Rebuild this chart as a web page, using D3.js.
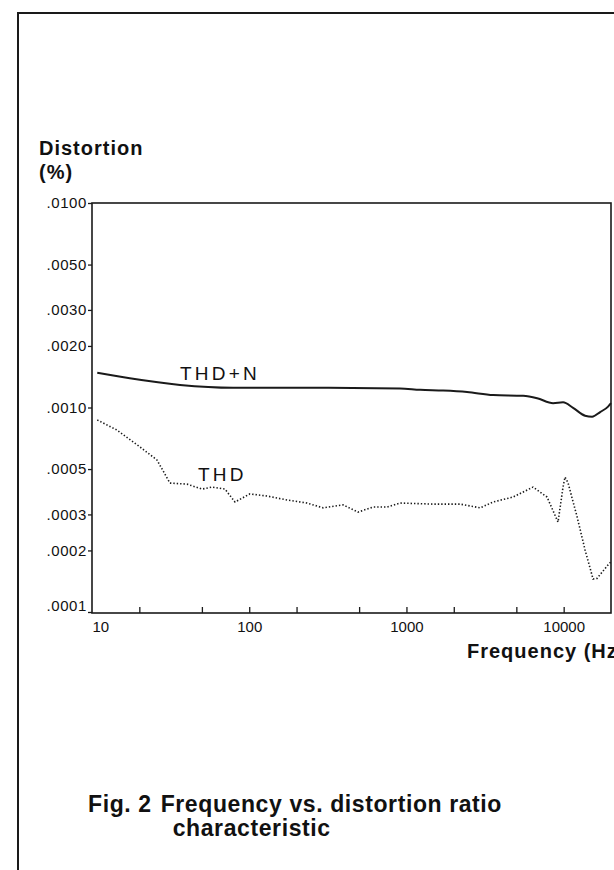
<!DOCTYPE html>
<html>
<head>
<meta charset="utf-8">
<script src="https://cdn.jsdelivr.net/npm/d3@7/dist/d3.min.js"></script>
<style>
  html, body { margin: 0; padding: 0; background: #fff; }
  svg { display: block; }
  text { font-family: "Liberation Sans", Arial, Helvetica, sans-serif; fill: #111; }
</style>
</head>
<body>
<svg id="chart" width="614" height="870"></svg>
<script>
// ---- Data ----
const thdnFreq = [10.8, 17.4, 36.3, 78.9, 244, 910, 1222, 1710, 2430, 3560, 5520, 6780, 8570, 9910, 11480, 13680, 15170, 17060, 19160, 20000];
const thdnValue = [0.00148, 0.00139, 0.00129, 0.00125, 0.00125, 0.00124, 0.00122, 0.00121, 0.00119, 0.00115, 0.00114, 0.00111, 0.00105, 0.00106, 0.000996, 0.000912, 0.000901, 0.00095, 0.00101, 0.00105];

const thdFreq = [10.8, 14.4, 20.2, 25.9, 31.3, 40.2, 50.1, 58.0, 70.1, 81.2, 101, 130, 174, 233, 295, 395, 492, 613, 753, 910, 1476, 2193, 2940, 3556, 4767, 6385, 7838, 9207, 9905, 10200, 10660, 12170, 13680, 15380, 16300, 19160, 20000];
const thdValue = [0.000869, 0.000776, 0.000641, 0.000554, 0.000427, 0.000422, 0.000399, 0.000408, 0.000399, 0.000345, 0.000378, 0.000369, 0.000353, 0.000341, 0.000323, 0.000334, 0.000308, 0.000326, 0.000326, 0.000341, 0.000337, 0.000337, 0.000323, 0.000345, 0.000365, 0.000408, 0.000365, 0.000275, 0.000408, 0.000457, 0.000428, 0.000292, 0.000201, 0.000145, 0.000146, 0.000170, 0.000176];

const xTickValues = [10, 20, 50, 100, 200, 500, 1000, 2000, 5000, 10000];
const xTickLabels = ["10", "", "", "100", "", "", "1000", "", "", "10000"];
const yTickValues = [0.0001, 0.0002, 0.0003, 0.0005, 0.001, 0.002, 0.003, 0.005, 0.01];
const yTickLabels = [".0001", ".0002", ".0003", ".0005", ".0010", ".0020", ".0030", ".0050", ".0100"];

const seriesLabels = ["THD+N", "THD"];
const yTitle = ["Distortion", "(%)"];
const xTitle = "Frequency (Hz)";
const captionLead = "Fig. 2";
const caption = ["Frequency vs. distortion ratio", "characteristic"];

// ---- Layout ----
const svg = d3.select("#chart");
const plotL = 92, plotR = 611, plotT = 203, plotB = 612, axisY = 613;
const ink = "#1a1a1a";

const x = d3.scaleLog().domain([10, 20000]).range([plotL, plotR]);
const y = d3.scaleLog().domain([0.0001, 0.01]).range([plotB, plotT]);

// outer page frame (left and top rules)
svg.append("line").attr("x1", 18).attr("y1", 13).attr("x2", 18).attr("y2", 870)
  .attr("stroke", ink).attr("stroke-width", 2);
svg.append("line").attr("x1", 17).attr("y1", 13).attr("x2", 614).attr("y2", 13)
  .attr("stroke", ink).attr("stroke-width", 2);

// plot box
svg.append("rect").attr("x", plotL).attr("y", plotT)
  .attr("width", plotR - plotL).attr("height", axisY - plotT)
  .attr("fill", "none").attr("stroke", ink).attr("stroke-width", 1.6);

// x axis (ticks inward)
const xAxis = d3.axisBottom(x).tickValues(xTickValues)
  .tickFormat((d, i) => xTickLabels[i]).tickSizeInner(-6).tickSizeOuter(0).tickPadding(8);
const gx = svg.append("g").attr("transform", `translate(0,${axisY})`).call(xAxis);
gx.select(".domain").remove();
gx.selectAll(".tick line").attr("stroke", ink).attr("stroke-width", 1.3);
gx.selectAll(".tick text").attr("font-size", 15).attr("fill", "#111")
  .style("font-family", '"Liberation Sans", Arial, sans-serif')
  .attr("text-anchor", d => d === 10 ? "start" : "middle");
gx.selectAll(".tick").filter(d => d === 10).select("line").remove();

// y axis (ticks outward)
const yAxis = d3.axisLeft(y).tickValues(yTickValues)
  .tickFormat((d, i) => yTickLabels[i]).tickSizeInner(4).tickSizeOuter(0).tickPadding(1);
const gy = svg.append("g").attr("transform", `translate(${plotL},0)`).call(yAxis);
gy.select(".domain").remove();
gy.selectAll(".tick line").attr("stroke", ink).attr("stroke-width", 1.3);
gy.selectAll(".tick text").attr("font-size", 15).attr("fill", "#111")
  .attr("letter-spacing", 0.6)
  .style("font-family", '"Liberation Sans", Arial, sans-serif')
  .attr("dy", d => d === 0.0001 ? "-0.1em" : "0.32em");

// curves
const thdn = thdnFreq.map((f, i) => [f, thdnValue[i]]);
const thd = thdFreq.map((f, i) => [f, thdValue[i]]);
const line = d3.line().x(d => x(d[0])).y(d => y(d[1]));

svg.append("path").datum(thdn).attr("d", line.curve(d3.curveMonotoneX))
  .attr("fill", "none").attr("stroke", ink).attr("stroke-width", 2);
svg.append("path").datum(thd).attr("d", line.curve(d3.curveLinear))
  .attr("fill", "none").attr("stroke", ink).attr("stroke-width", 1.6)
  .attr("stroke-dasharray", "1.4,2");

// series labels
svg.append("text").attr("x", 180).attr("y", 380).attr("font-size", 19)
  .attr("letter-spacing", 3.2).text(seriesLabels[0]);
svg.append("text").attr("x", 198).attr("y", 481).attr("font-size", 19)
  .attr("letter-spacing", 3.2).text(seriesLabels[1]);

// axis titles
svg.append("text").attr("x", 39).attr("y", 155).attr("font-size", 20)
  .attr("letter-spacing", 1).attr("font-weight", "bold").text(yTitle[0]);
svg.append("text").attr("x", 39).attr("y", 179).attr("font-size", 20)
  .attr("letter-spacing", 1).attr("font-weight", "bold").text(yTitle[1]);
svg.append("text").attr("x", 467).attr("y", 658).attr("font-size", 20)
  .attr("letter-spacing", 1).attr("font-weight", "bold").text(xTitle);

// caption (hanging indent)
const capX = 88, capSize = 23, capLS = 0.6;
const lead = svg.append("text").attr("x", capX).attr("y", 812).attr("font-size", capSize)
  .attr("letter-spacing", capLS).attr("font-weight", "bold").text(captionLead);
const indentX = capX + lead.node().getComputedTextLength() + 9;
svg.append("text").attr("x", indentX).attr("y", 812).attr("font-size", capSize)
  .attr("letter-spacing", capLS).attr("font-weight", "bold").text(caption[0]);
svg.append("text").attr("x", indentX + 12).attr("y", 836).attr("font-size", capSize)
  .attr("letter-spacing", capLS).attr("font-weight", "bold").text(caption[1]);
</script>
</body>
</html>
